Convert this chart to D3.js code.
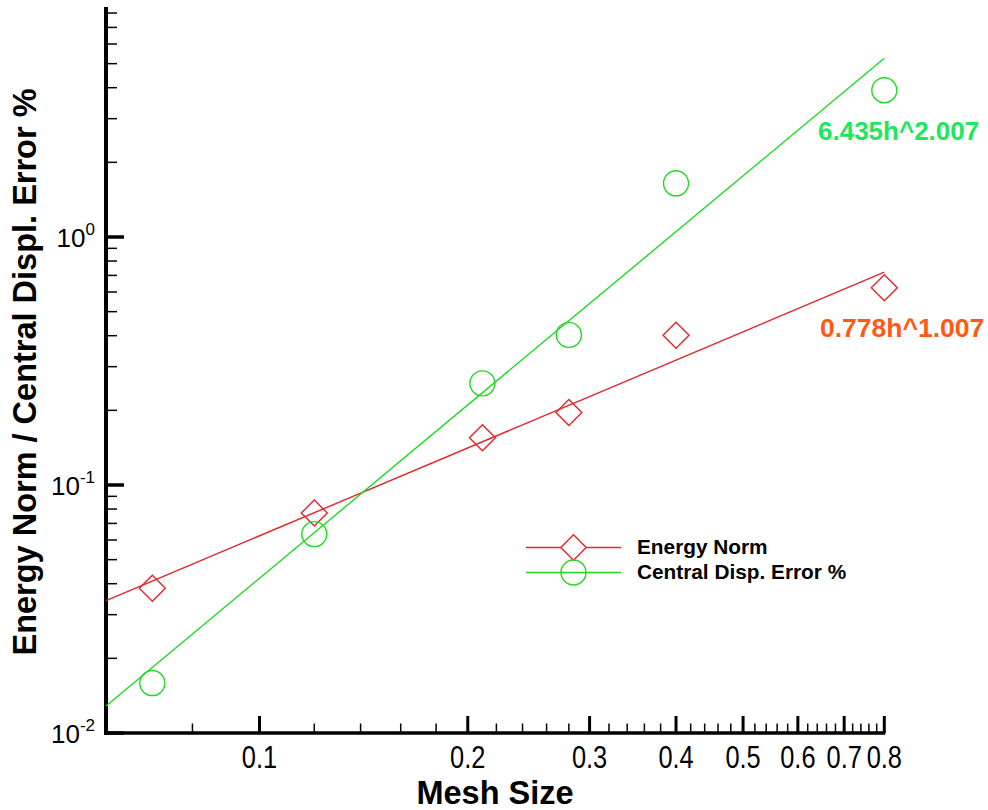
<!DOCTYPE html>
<html>
<head>
<meta charset="utf-8">
<script src="https://cdn.jsdelivr.net/npm/d3@7"></script>
<style>
  html, body { margin: 0; padding: 0; background: #fff; }
  svg { display: block; }
</style>
</head>
<body>
<svg id="chart" width="988" height="810"></svg>
<script>
// ---------- data ----------
const meshSize = [0.07, 0.12, 0.21, 0.28, 0.40, 0.80];
const energyNorm = [0.0383, 0.0771, 0.155, 0.196, 0.402, 0.624];
const centralDispError = [0.0159, 0.0634, 0.257, 0.403, 1.646, 3.905];
const energyFit = [[0.06, 0.0342], [0.80, 0.721]];
const dispFit = [[0.06, 0.01285], [0.80, 5.255]];
const seriesNames = ["Energy Norm", "Central Disp. Error %"];
const fitLabels = ["0.778h^1.007", "6.435h^2.007"];
const xMajorTicks = [0.1, 0.2, 0.3, 0.4, 0.5, 0.6, 0.7, 0.8];
const xTickLabels = ["0.1", "0.2", "0.3", "0.4", "0.5", "0.6", "0.7", "0.8"];
const yMajorTicks = [0.01, 0.1, 1];
const yTickExponents = ["-2", "-1", "0"];
const xTitle = "Mesh Size";
const yTitle = "Energy Norm / Central Displ. Error %";

// ---------- styles ----------
const RED = "#e0282e", GREEN = "#22d822";
const svg = d3.select("#chart");
svg.append("rect").attr("width", 988).attr("height", 810).attr("fill", "#fff");

const x = d3.scaleLog().domain([0.06, 0.8]).range([106, 884.3]);
const y = d3.scaleLog().domain([0.01, 8.46]).range([733, 7]);

const sans = "'Liberation Sans', Arial, Helvetica, sans-serif";

// minor ticks
const xMinor = d3.range(4, 41).map(i => +(i * 0.02).toFixed(2))
  .filter(v => v > 0.06 && v < 0.8 && !xMajorTicks.some(m => Math.abs(m - v) < 1e-9));
const yMinor = [];
[0.01, 0.1, 1].forEach(d => { for (let k = 2; k <= 9; k++) { const v = d * k; if (v < 8.46) yMinor.push(v); } });

const axes = svg.append("g");
// x axis ticks (pointing up)
axes.selectAll(".xmin").data(xMinor).join("line")
  .attr("x1", d => x(d)).attr("x2", d => x(d))
  .attr("y1", 733).attr("y2", 723.5)
  .attr("stroke", "#000").attr("stroke-width", 1.5);
axes.selectAll(".xmaj").data(xMajorTicks).join("line")
  .attr("x1", d => x(d)).attr("x2", d => x(d))
  .attr("y1", 733).attr("y2", 716)
  .attr("stroke", "#000").attr("stroke-width", 3);
// y axis ticks (pointing right)
axes.selectAll(".ymin").data(yMinor).join("line")
  .attr("x1", 106).attr("x2", 117)
  .attr("y1", d => y(d)).attr("y2", d => y(d))
  .attr("stroke", "#000").attr("stroke-width", 1.5);
axes.selectAll(".ymaj").data(yMajorTicks).join("line")
  .attr("x1", 106).attr("x2", 124)
  .attr("y1", d => y(d)).attr("y2", d => y(d))
  .attr("stroke", "#000").attr("stroke-width", 3.5);
// axis lines
axes.append("line").attr("x1", 106).attr("x2", 106).attr("y1", y.range()[1]).attr("y2", 735)
  .attr("stroke", "#000").attr("stroke-width", 4);
axes.append("line").attr("x1", 104).attr("x2", x.range()[1] + 1).attr("y1", 733).attr("y2", 733)
  .attr("stroke", "#000").attr("stroke-width", 3.5);

// x tick labels (condensed look)
axes.selectAll(".xlab").data(xMajorTicks).join("text")
  .attr("transform", d => `translate(${x(d)},768) scale(0.82,1)`)
  .attr("text-anchor", "middle")
  .attr("font-family", sans).attr("font-size", 31)
  .text((d, i) => xTickLabels[i]);

// y tick labels
yMajorTicks.forEach((v, i) => {
  const t = axes.append("text")
    .attr("x", 95).attr("y", y(v) + 10)
    .attr("text-anchor", "end")
    .attr("font-family", sans).attr("font-size", 26);
  t.append("tspan").text("10");
  t.append("tspan").attr("font-size", 17).attr("dy", -12).text(yTickExponents[i]);
});

// axis titles
svg.append("text").attr("x", 495).attr("y", 804)
  .attr("text-anchor", "middle").attr("font-family", sans)
  .attr("font-weight", "bold").attr("font-size", 32.5).text(xTitle);
svg.append("text").attr("transform", "translate(36,372) rotate(-90)")
  .attr("text-anchor", "middle").attr("font-family", sans)
  .attr("font-weight", "bold").attr("font-size", 32.5).text(yTitle);

// fit lines
const line = d3.line().x(d => x(d[0])).y(d => y(d[1]));
svg.append("path").datum(energyFit).attr("d", line).attr("fill", "none")
  .attr("stroke", RED).attr("stroke-width", 1.4);
svg.append("path").datum(dispFit).attr("d", line).attr("fill", "none")
  .attr("stroke", GREEN).attr("stroke-width", 1.4);

// markers
const diamond = (cx, cy, r) => `M${cx},${cy - r}L${cx + r},${cy}L${cx},${cy + r}L${cx - r},${cy}Z`;
svg.selectAll(".dia").data(meshSize).join("path")
  .attr("d", (d, i) => diamond(x(d), y(energyNorm[i]), 13))
  .attr("fill", "none").attr("stroke", RED).attr("stroke-width", 1.4);
svg.selectAll(".circ").data(meshSize).join("circle")
  .attr("cx", d => x(d)).attr("cy", (d, i) => y(centralDispError[i]))
  .attr("r", 12.5).attr("fill", "none").attr("stroke", GREEN).attr("stroke-width", 1.4);

// legend
const leg = svg.append("g");
leg.append("line").attr("x1", 526).attr("x2", 621).attr("y1", 547.5).attr("y2", 547.5)
  .attr("stroke", RED).attr("stroke-width", 1.4);
leg.append("path").attr("d", diamond(573.5, 547.5, 12.7))
  .attr("fill", "#fff").attr("stroke", RED).attr("stroke-width", 1.4);
leg.append("line").attr("x1", 526).attr("x2", 621).attr("y1", 572.5).attr("y2", 572.5)
  .attr("stroke", GREEN).attr("stroke-width", 1.4);
leg.append("circle").attr("cx", 573.5).attr("cy", 572.5).attr("r", 12.5)
  .attr("fill", "none").attr("stroke", GREEN).attr("stroke-width", 1.4);
leg.append("text").attr("x", 637).attr("y", 554).attr("font-family", sans)
  .attr("font-weight", "bold").attr("font-size", 20.8).text(seriesNames[0]);
leg.append("text").attr("x", 637).attr("y", 579).attr("font-family", sans)
  .attr("font-weight", "bold").attr("font-size", 20.8).text(seriesNames[1]);

// fit annotations
svg.append("text").attr("x", 818).attr("y", 140).attr("font-family", sans)
  .attr("font-weight", "bold").attr("font-size", 26).attr("fill", "#1ee85a").text(fitLabels[1]);
svg.append("text").attr("x", 820).attr("y", 337).attr("font-family", sans)
  .attr("font-weight", "bold").attr("font-size", 26.5).attr("fill", "#ff5a14").text(fitLabels[0]);
</script>
</body>
</html>
